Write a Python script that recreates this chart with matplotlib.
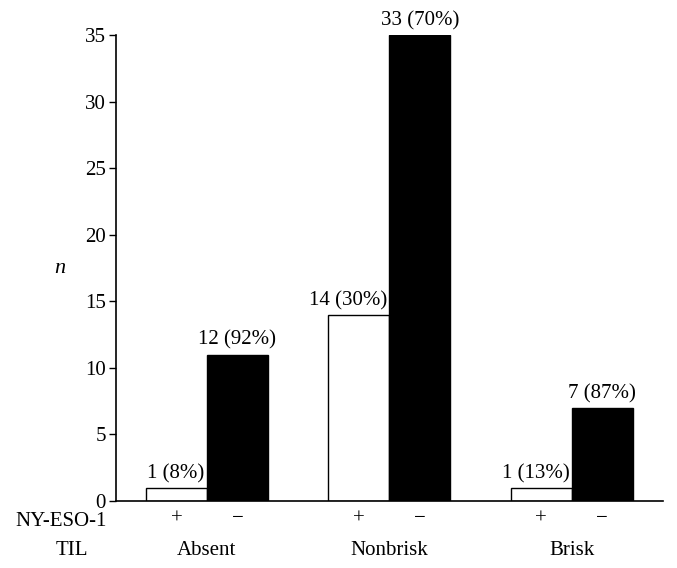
import matplotlib.pyplot as plt
import numpy as np

plt.rcParams['font.family'] = ['Liberation Serif', 'DejaVu Serif']

# data
groups = ['Absent', 'Nonbrisk', 'Brisk']
pos_heights = [1, 14, 1]
neg_heights = [11, 35, 7]
pos_labels = ['1 (8%)', '14 (30%)', '1 (13%)']
neg_labels = ['12 (92%)', '33 (70%)', '7 (87%)']
yticks = [0, 5, 10, 15, 20, 25, 30, 35]

fs = 15

fig = plt.figure(figsize=(6.77, 5.68), dpi=100)
ax = fig.add_axes([0.171, 0.118, 0.808, 0.820])

x = np.arange(len(groups))
w = 0.335
ax.bar(x - w / 2, pos_heights, width=w, color='white', edgecolor='black', linewidth=1.0)
ax.bar(x + w / 2, neg_heights, width=w, color='black', edgecolor='black', linewidth=1.0)

for i in range(len(groups)):
    # "+" labels sit flush against the right edge of the white bar
    ax.text(x[i] - 0.012, pos_heights[i] + 0.35, pos_labels[i], ha='right', va='bottom', fontsize=fs)
    ax.text(x[i] + w / 2, neg_heights[i] + 0.35, neg_labels[i], ha='center', va='bottom', fontsize=fs)

ax.set_xlim(-0.5, 2.5)
ax.set_ylim(0, 35)
ax.set_yticks(yticks)
ax.tick_params(axis='y', direction='out', length=5, width=1, labelsize=fs, pad=2)

ticks = np.concatenate([x - w / 2, x + w / 2])
ax.set_xticks(ticks)
ax.set_xticklabels(['+'] * len(groups) + ['\u2212'] * len(groups), fontsize=fs)
ax.tick_params(axis='x', length=0, pad=6)

for i, g in enumerate(groups):
    ax.text(x[i], -0.085, g, transform=ax.get_xaxis_transform(), ha='center', va='top', fontsize=fs)

ax.text(-0.0165, -0.043, 'NY-ESO-1', transform=ax.transAxes, ha='right', va='center', fontsize=fs)
ax.text(-0.08, -0.085, 'TIL', transform=ax.transAxes, ha='center', va='top', fontsize=fs)

ax.text(-0.103, 0.50, 'n', transform=ax.transAxes, ha='center', va='center', fontsize=fs + 1, style='italic')

ax.spines['top'].set_visible(False)
ax.spines['right'].set_visible(False)
ax.spines['left'].set_linewidth(1.2)
ax.spines['bottom'].set_linewidth(1.2)

fig.savefig('out.png', dpi=100, facecolor='white')
